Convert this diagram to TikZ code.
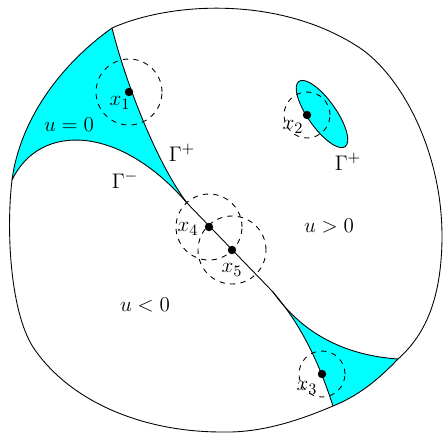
\documentclass[tikz,border=0pt]{standalone}

\definecolor{aqua}{RGB}{0,255,255}

% outer boundary of the domain
\newcommand{\rimpath}{(112,28) .. controls (170,2) and (280,-5) .. (360,48)
  .. controls (400,75) and (443,150) .. (442,240)
  .. controls (441,300) and (425,335) .. (398,359)
  .. controls (378,380) and (358,396) .. (333,406)
  .. controls (300,420) and (262,433) .. (222,432)
  .. controls (140,432) and (70,400) .. (35,350)
  .. controls (10,315) and (6,230) .. (12,180)
  .. controls (20,120) and (60,65) .. (112,28) -- cycle}

\begin{document}
\begin{tikzpicture}[x=0.02cm, y=-0.02cm, line width=0.5pt, every node/.style={font=\fontsize{13}{15}\selectfont}]
  \useasboundingbox (0,0) rectangle (444,434);

  % corners of the two cusped pieces
  \coordinate (A) at (112,28);
  \coordinate (B) at (12,180);
  \coordinate (C1) at (187,203);
  \coordinate (C2) at (273,292);
  \coordinate (D) at (398,359);
  \coordinate (E) at (333,406);

  % the points x_i
  \coordinate (x1) at (129,92);
  \coordinate (x2) at (307,115);
  \coordinate (x3) at (322,374);
  \coordinate (x4) at (209,227);
  \coordinate (x5) at (232,250);

  % cyan pieces, cut off by the rim
  \begin{scope}
    \clip \rimpath;
    \fill[aqua] (C1) .. controls (120,125) and (40,122) .. (B) -- (-2,209) -- (-5,-5) -- (105,-5) -- (A)
      .. controls (125,80) and (155,160) .. (C1) -- cycle;
    \fill[aqua] (C2) .. controls (300,330) and (340,355) .. (D) -- (450,361) -- (450,440) -- (338,440) -- (E)
      .. controls (315,350) and (295,318) .. (C2) -- cycle;
  \end{scope}
  \draw[fill=aqua] (322,114) ellipse [x radius=40, y radius=14, rotate=-54.7];

  % free boundary
  \draw (B) .. controls (40,122) and (120,125) .. (C1) -- (C2);
  \draw (A) .. controls (125,80) and (155,160) .. (C1);
  \draw (C2) .. controls (300,330) and (340,355) .. (D);
  \draw (C2) .. controls (295,318) and (315,350) .. (E);
  \draw \rimpath;

  % balls round the points
  \draw[dashed] (x1) circle (0.66cm);
  \draw[dashed] (x2) circle (0.46cm);
  \draw[dashed] (x3) circle (0.46cm);
  \draw[dashed] (x4) circle (0.66cm);
  \draw[dashed] (x5) circle (0.68cm);
  \foreach \p in {x1,x2,x3,x4,x5}
    \fill (\p) circle (2.4pt);

  % labels
  \node (l1) at (120,103) {$x_1$};
  \node (l2) at (293,127) {$x_2$};
  \node (l3) at (307,388) {$x_3$};
  \node (l4) at (188,229) {$x_4$};
  \node (l5) at (232,270) {$x_5$};
  \node (uzero) at (69,125) {$u=0$};
  \node (upos) at (329,226) {$u>0$};
  \node (uneg) at (145,305) {$u<0$};
  \node (gp1) at (182,153) {$\Gamma^+$};
  \node (gm) at (125,180) {$\Gamma^-$};
  \node (gp2) at (348,162) {$\Gamma^+$};
\end{tikzpicture}
\end{document}
